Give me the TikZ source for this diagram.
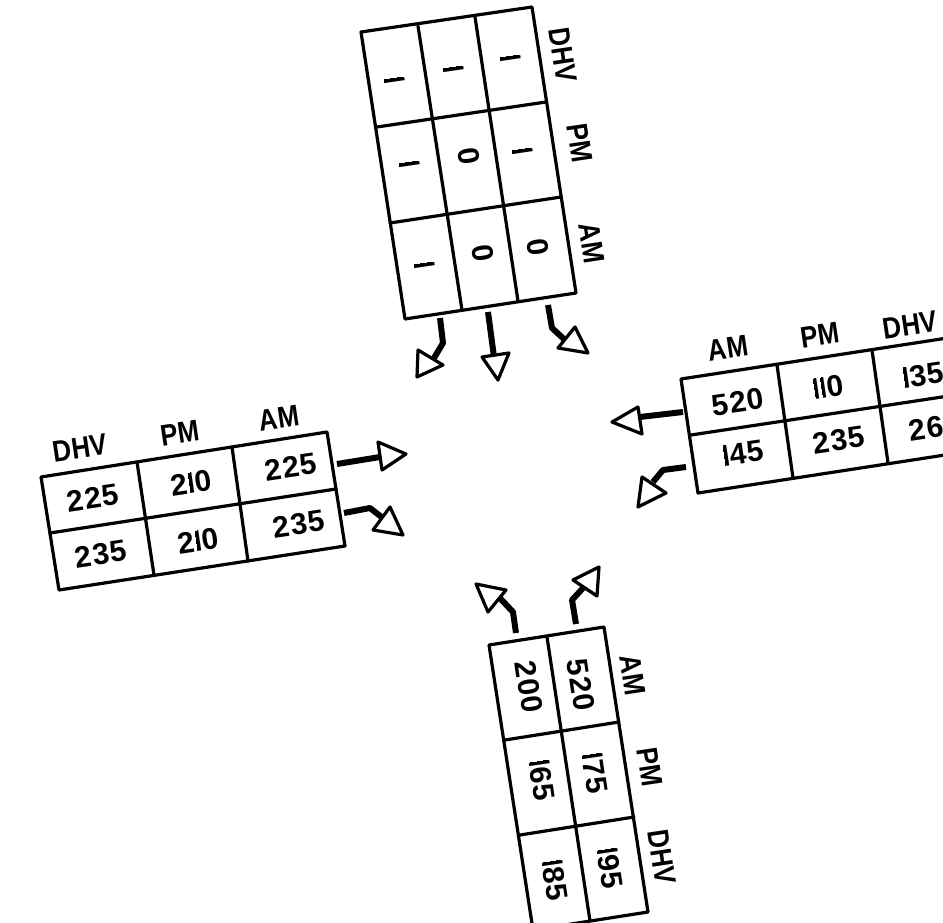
\documentclass[tikz,border=0pt]{standalone}
\usepackage{fontspec}
\usepackage{trimclip}
\setmainfont{Liberation Sans}
\newfontfamily\valfont[BoldFont={Liberation Sans Bold},LetterSpace=4]{Liberation Sans}
\newfontfamily\labfont[FakeStretch=0.86]{Liberation Sans Bold}
\newfontfamily\onefont{TeX Gyre Heros Bold}
\newcommand{\one}{\hspace{.05em}\clipbox{.238em 0pt .178em 0pt}{\onefont 1}\hspace{.05em}}
\tikzset{
  grid/.style={line width=3.2pt,line join=round,line cap=round},
  shaft/.style={line width=6pt,line join=round},
  head/.style={line width=3.2pt,line join=round,fill=white},
  val/.style={font=\valfont\bfseries\fontsize{30}{30}\selectfont,inner sep=0pt},
  lab/.style={font=\labfont\fontsize{30}{30}\selectfont,inner sep=0pt},
}
\begin{document}
\begin{tikzpicture}[x=1pt,y=-1pt]
\useasboundingbox (0,0) rectangle (943,923);
\clip (0,0) rectangle (943,923);
% ---- north table
\draw[grid] (361,32) -- (532,7) -- (576,293) -- (405,319) -- cycle;
\draw[grid] (418,26) -- (462,310);
\draw[grid] (475,17) -- (518,301);
\draw[grid] (377,127) -- (546,102);
\draw[grid] (390,223) -- (561,197);
\begin{scope}[every node/.style={rotate=-81.5}]
\node[lab] (nd) at (563,55) {DHV};
\node[lab] (np) at (580,143) {PM};
\node[lab] (na) at (592,243) {AM};
\node[val] (n1) at (394,79) {\one};
\node[val] (n2) at (453,68) {\one};
\node[val] (n3) at (510,57) {\one};
\node[val] (n4) at (409,163) {\one};
\node[val] (n5) at (469,156) {0};
\node[val] (n6) at (522,150) {\one};
\node[val] (n7) at (424,264) {\one};
\node[val] (n8) at (483,253) {0};
\node[val] (n9) at (538,247) {0};
\end{scope}
\coordinate (na1) at (440,318); \coordinate (na2) at (443,343); \coordinate (na3) at (434,358);
\coordinate (nb1) at (488,312); \coordinate (nb2) at (494,357);
\coordinate (nc1) at (548,305); \coordinate (nc2) at (552,328); \coordinate (nc3) at (565,340);
\draw[shaft] (na1) -- (na2) -- (na3);
\draw[shaft] (nb1) -- (nb2);
\draw[shaft] (nc1) -- (nc2) -- (nc3);
\draw[head] (418,350) -- (417,377) -- (443,365) -- cycle;
\draw[head] (482,357) -- (509,353) -- (498,380) -- cycle;
\draw[head] (575,327) -- (588,353) -- (558,348) -- cycle;
% ---- east table
\draw[grid] (967,335) -- (681,379) -- (698,493) -- (984,449);
\draw[grid] (777,365) -- (793,478);
\draw[grid] (872,350) -- (888,463);
\draw[grid] (691,435) -- (975,392);
\node[lab,rotate=8.5] (ea) at (728,348) {AM};
\node[lab,rotate=8.5] (ep) at (820,335) {PM};
\node[lab,rotate=8.5] (ed) at (910,325) {DHV};
\node[val,rotate=8.5] (e1) at (738,402) {520};
\node[val,rotate=8.5] (e2) at (828,387) {\one\one0};
\node[val,rotate=8.5] (e3) at (923,375) {\one35};
\node[val,rotate=8.5] (e4) at (743,453) {\one45};
\node[val,rotate=8.5] (e5) at (839,440) {235};
\node[val,rotate=8.5] (e6) at (935,427) {260};
\coordinate (ea1) at (683,412); \coordinate (ea2) at (640,417);
\coordinate (eb1) at (686,467); \coordinate (eb2) at (663,470); \coordinate (eb3) at (653,482);
\draw[shaft] (ea1) -- (ea2);
\draw[shaft] (eb1) -- (eb2) -- (eb3);
\draw[head] (638,407) -- (642,434) -- (612,422) -- cycle;
\draw[head] (642,477) -- (638,507) -- (666,493) -- cycle;
% ---- west table
\draw[grid] (41,477) -- (327,432) -- (345,546) -- (59,590) -- cycle;
\draw[grid] (137,462) -- (154,575);
\draw[grid] (232,447) -- (248,561);
\draw[grid] (50,533) -- (336,489);
\node[lab,rotate=8.5] (wd) at (80,448) {DHV};
\node[lab,rotate=8.5] (wp) at (180,433) {PM};
\node[lab,rotate=8.5] (wa) at (279,418) {AM};
\node[val,rotate=8.5] (w1) at (93,498) {225};
\node[val,rotate=8.5] (w2) at (191,483) {2\one0};
\node[val,rotate=8.5] (w3) at (291,467) {225};
\node[val,rotate=8.5] (w4) at (101,554) {235};
\node[val,rotate=8.5] (w5) at (198,541) {2\one0};
\node[val,rotate=8.5] (w6) at (299,524) {235};
\coordinate (wa1) at (337,464); \coordinate (wa2) at (380,457);
\coordinate (wb1) at (344,513); \coordinate (wb2) at (370,508); \coordinate (wb3) at (384,519);
\draw[shaft] (wa1) -- (wa2);
\draw[shaft] (wb1) -- (wb2) -- (wb3);
\draw[head] (378,442) -- (406,454) -- (382,470) -- cycle;
\draw[head] (390,507) -- (403,535) -- (373,530) -- cycle;
% ---- south table
\draw[grid] (489,645) -- (604,627) -- (648,912) -- (533,930) -- cycle;
\draw[grid] (547,637) -- (590,921);
\draw[grid] (505,740) -- (619,722);
\draw[grid] (520,835) -- (634,817);
\begin{scope}[every node/.style={rotate=-81.5}]
\node[lab] (sa) at (633,675) {AM};
\node[lab] (sp) at (650,767) {PM};
\node[lab] (sd) at (662,857) {DHV};
\node[val] (s1) at (581,685) {520};
\node[val] (s2) at (529,687) {200};
\node[val] (s3) at (595,773) {\one75};
\node[val] (s4) at (542,780) {\one65};
\node[val] (s5) at (610,868) {\one95};
\node[val] (s6) at (555,880) {\one85};
\end{scope}
\coordinate (sa1) at (516,633); \coordinate (sa2) at (513,612); \coordinate (sa3) at (498,596);
\coordinate (sb1) at (576,624); \coordinate (sb2) at (572,600); \coordinate (sb3) at (584,587);
\draw[shaft] (sa1) -- (sa2) -- (sa3);
\draw[shaft] (sb1) -- (sb2) -- (sb3);
\draw[head] (476,584) -- (506,590) -- (488,612) -- cycle;
\draw[head] (599,567) -- (573,580) -- (597,596) -- cycle;
\end{tikzpicture}
\end{document}
